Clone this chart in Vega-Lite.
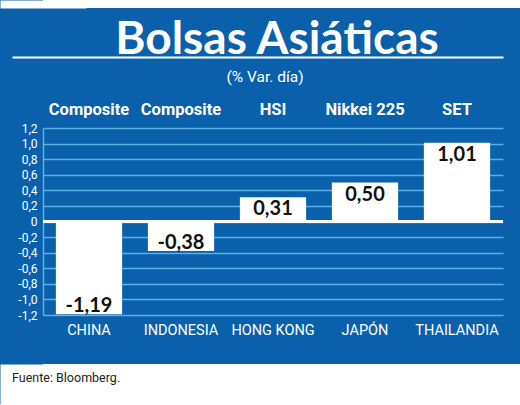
{
  "$schema": "https://vega.github.io/schema/vega-lite/v6.json",
  "background": "#0a60aa",
  "padding": 0,
  "spacing": 6,
  "config": {
    "view": {"stroke": null},
    "locale": {
      "number": {"decimal": ",", "thousands": ".", "grouping": [3], "currency": ["", " €"], "minus": "-"}
    }
  },
  "vconcat": [
    {
      "width": 477,
      "height": 8,
      "view": {"fill": "white", "stroke": null},
      "data": {"values": [{"k": "margen"}]},
      "mark": {"type": "rect", "color": "white"},
      "encoding": {
        "y": {"field": "k", "type": "nominal", "axis": {"title": null, "labels": false, "ticks": false, "domainColor": "white", "domainWidth": 86, "minExtent": 43, "maxExtent": 43}}
      }
    },
    {
      "width": 460,
      "height": 44,
      "data": {"values": [{"titulo": "Bolsas Asiáticas"}]},
      "mark": {"type": "text", "font": "Lato", "fontWeight": "bold", "fontSize": 46, "color": "white", "baseline": "alphabetic", "dx": 4, "dy": -4},
      "encoding": {
        "x": {"field": "titulo", "type": "nominal", "axis": null},
        "y": {"field": "titulo", "type": "nominal", "scale": {"type": "point", "padding": 0, "align": 1}, "axis": {"title": null, "labels": false, "ticks": false, "domainColor": "white", "domainWidth": 491, "domainDash": [0, 42, 2], "offset": -214.5, "minExtent": 0, "maxExtent": 0}},
        "text": {"field": "titulo"}
      }
    },
    {
      "width": 460,
      "height": 187,
      "title": {"text": "(% Var. día)", "font": "Roboto", "fontSize": 15.5, "fontWeight": "normal", "color": "white", "offset": 16, "anchor": "middle", "frame": "group", "dx": -8},
      "data": {
        "values": [
          {"pais": "CHINA", "indice": "Composite", "cambio": -1.19},
          {"pais": "INDONESIA", "indice": "Composite", "cambio": -0.38},
          {"pais": "HONG KONG", "indice": "HSI", "cambio": 0.31},
          {"pais": "JAPÓN", "indice": "Nikkei 225", "cambio": 0.50},
          {"pais": "THAILANDIA", "indice": "SET", "cambio": 1.01}
        ]
      },
      "resolve": {"axis": {"x": "independent"}},
      "layer": [
        {
          "mark": {"type": "bar", "color": "white"},
          "encoding": {
            "x": {
              "field": "pais", "type": "nominal",
              "sort": ["CHINA", "INDONESIA", "HONG KONG", "JAPÓN", "THAILANDIA"],
              "scale": {"paddingInner": 0.28, "paddingOuter": 0.14},
              "axis": {"orient": "bottom", "title": null, "domain": false, "ticks": false, "labelAngle": 0, "labelColor": "white", "labelFont": "Roboto", "labelFontSize": 14.5, "labelPadding": 8, "minExtent": 43, "maxExtent": 43}
            },
            "y": {
              "field": "cambio", "type": "quantitative",
              "scale": {"domain": [-1.2, 1.2], "nice": false},
              "axis": {
                "title": null,
                "values": [-1.2, -1, -0.8, -0.6, -0.4, -0.2, 0, 0.2, 0.4, 0.6, 0.8, 1, 1.2],
                "tickCount": 13,
                "labelOverlap": false,
                "format": ".1f",
                "labelExpr": "datum.value == 0 ? '0' : datum.label",
                "ticks": false,
                "domainColor": "#5db0e6", "domainWidth": 1.5,
                "grid": true, "gridColor": "#5db0e6", "gridWidth": 1.5, "gridOpacity": 1,
                "labelColor": "white", "labelFont": "Roboto", "labelFontSize": 12, "labelPadding": 6,
                "minExtent": 43, "maxExtent": 43
              }
            }
          }
        },
        {
          "mark": {"type": "rule", "color": "white", "strokeWidth": 2.5},
          "encoding": {
            "y": {"datum": 0, "type": "quantitative"}
          }
        },
        {
          "transform": [{"filter": "datum.cambio >= 0"}],
          "mark": {"type": "text", "baseline": "alphabetic", "dy": 18, "font": "Lato", "fontWeight": "bold", "fontSize": 20, "color": "#111111"},
          "encoding": {
            "x": {
              "field": "pais", "type": "nominal",
              "sort": ["CHINA", "INDONESIA", "HONG KONG", "JAPÓN", "THAILANDIA"],
              "axis": {
                "orient": "top", "title": null, "domain": false, "ticks": false, "labelAngle": 0,
                "labelExpr": "datum.label == 'CHINA' || datum.label == 'INDONESIA' ? 'Composite' : datum.label == 'HONG KONG' ? 'HSI' : datum.label == 'JAPÓN' ? 'Nikkei 225' : 'SET'",
                "labelColor": "white", "labelFont": "Roboto", "labelFontWeight": "bold", "labelFontSize": 16.5, "labelBaseline": "alphabetic", "labelPadding": 14,
                "minExtent": 27, "maxExtent": 27
              }
            },
            "y": {"field": "cambio", "type": "quantitative"},
            "text": {"field": "cambio", "type": "quantitative", "format": ".2f"}
          }
        },
        {
          "transform": [{"filter": "datum.cambio < 0"}],
          "mark": {"type": "text", "baseline": "alphabetic", "dy": -2.5, "font": "Lato", "fontWeight": "bold", "fontSize": 20, "color": "#111111"},
          "encoding": {
            "x": {"field": "pais", "type": "nominal", "sort": ["CHINA", "INDONESIA", "HONG KONG", "JAPÓN", "THAILANDIA"], "axis": null},
            "y": {"field": "cambio", "type": "quantitative"},
            "text": {"field": "cambio", "type": "quantitative", "format": ".2f"}
          }
        }
      ]
    },
    {
      "width": 477,
      "height": 40,
      "view": {"fill": "white", "stroke": null},
      "data": {"values": [{"fuente": "Fuente: Bloomberg."}]},
      "mark": {"type": "text", "align": "left", "baseline": "alphabetic", "dx": -31, "dy": -2, "font": "Roboto", "fontSize": 12.5, "color": "#222222"},
      "encoding": {
        "x": {"field": "fuente", "type": "nominal", "scale": {"type": "point", "padding": 0, "align": 0}, "axis": null},
        "y": {"field": "fuente", "type": "nominal", "axis": {"title": null, "labels": false, "ticks": false, "domainColor": "white", "domainWidth": 86, "minExtent": 43, "maxExtent": 43}},
        "text": {"field": "fuente"}
      }
    }
  ]
}
